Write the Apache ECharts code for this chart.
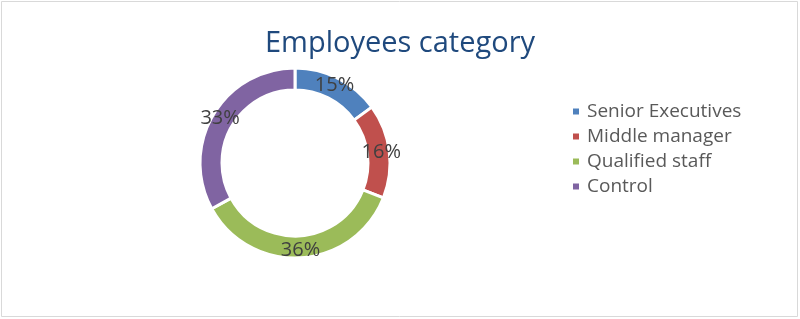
<!DOCTYPE html>
<html>
<head>
<meta charset="utf-8">
<script src="https://cdn.jsdelivr.net/npm/echarts@6/dist/echarts.min.js"></script>
<style>
html,body{margin:0;padding:0;background:#fff;}
#chart{width:800px;height:319px;}
</style>
</head>
<body>
<div id="chart"></div>
<script>
const titleText = 'Employees category';
const categories = ['Senior Executives', 'Middle manager', 'Qualified staff', 'Control'];
const values = [15, 16, 36, 33];
const colors = ['#4F81BD', '#C0504D', '#9BBB59', '#8064A2'];

const chart = echarts.init(document.getElementById('chart'), null, {renderer: 'canvas'});
chart.setOption({
  backgroundColor: '#ffffff',
  animation: false,
  title: {
    text: titleText,
    left: 'center',
    top: 24,
    textStyle: {fontFamily: 'Open Sans', fontSize: 29, fontWeight: 'normal', color: '#1F497D'}
  },
  legend: {
    orient: 'vertical',
    left: 566,
    top: 97,
    itemWidth: 8,
    itemHeight: 8,
    itemGap: 6,
    icon: 'rect',
    textStyle: {fontFamily: 'Open Sans', fontSize: 19, color: '#595959', lineHeight: 19, padding: [0,0,0,2]},
    data: categories
  },
  graphic: [{
    type: 'rect',
    shape: {x: 1.5, y: 1.5, width: 796, height: 315},
    style: {fill: 'none', stroke: '#d9d9d9', lineWidth: 1},
    silent: true
  }],
  series: [{
    type: 'pie',
    center: [295, 163],
    radius: [73, 95],
    startAngle: 90,
    clockwise: true,
    label: {
      show: true,
      position: 'inside',
      formatter: '{d}%',
      fontFamily: 'Open Sans',
      fontSize: 20,
      color: '#404040'
    },
    labelLine: {show: false},
    itemStyle: {borderColor: '#ffffff', borderWidth: 3},
    emphasis: {disabled: true},
    data: categories.map((c, i) => ({name: c, value: values[i], itemStyle: {color: colors[i]}}))
  }]
});
</script>
</body>
</html>
